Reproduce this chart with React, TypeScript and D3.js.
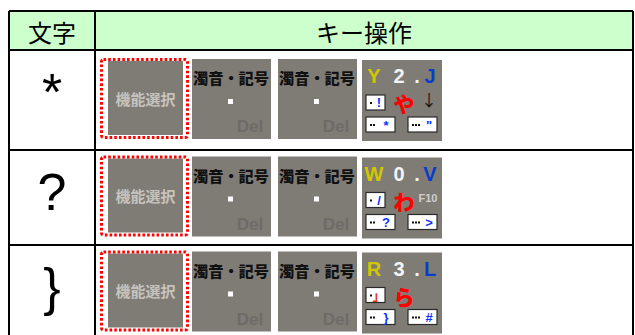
import React from "react";
import * as d3 from "d3";

// table content
const headers = ["文字", "キー操作"];
const chars = ["*", "?", "}"];
const romaji = [
  ["Y", "2", ".", "J"],
  ["W", "0", ".", "V"],
  ["R", "3", ".", "L"],
];
const kana = ["や", "わ", "ら"];
const extraKeys = ["↓", "F10", ""];
const oneTap = ["!", "/", "」"];
const twoTap = ["*", "?", "}"];
const threeTap = ['"', ">", "#"];
const menuLabel = "機能選択";
const markLabel = "濁音・記号";
const delLabel = "Del";

const W = 635;
const H = 335;
const left = 9;
const split = 95;
const right = 633;
const top = 11;
const headerH = 39;
const rowHeights = [100, 95, 95];

const KEY_BG = "#7f7c76";
const JP = "'Noto Sans CJK JP', sans-serif";
const LAT = "'Liberation Sans', Arial, sans-serif";

const MenuIcon = ({ x, y }: { x: number; y: number }) => (
  <g>
    <rect x={x + 8} y={y + 3} width={75} height={74} fill={KEY_BG} />
    <rect
      x={x + 1.5}
      y={y + 1.5}
      width={86}
      height={78}
      rx={2}
      fill="none"
      stroke="#ff0000"
      strokeWidth={3}
      strokeDasharray="2.6 2.1"
    />
    <text
      x={x + 45.5}
      y={y + 40}
      textAnchor="middle"
      dominantBaseline="central"
      fontFamily={JP}
      fontWeight={700}
      fontSize={15}
      fill="#c6c3bd"
    >
      {menuLabel}
    </text>
  </g>
);

const MarkIcon = ({ x, y }: { x: number; y: number }) => (
  <g>
    <rect x={x} y={y} width={79} height={80} fill={KEY_BG} />
    <text
      x={x + 1}
      y={y + 25}
      textLength={76}
      lengthAdjust="spacingAndGlyphs"
      fontFamily={JP}
      fontWeight={900}
      fontSize={15}
      fill="#111"
    >
      {markLabel}
    </text>
    <rect x={x + 36} y={y + 40} width={5} height={5} fill="#ffffff" />
    <text
      x={x + 58}
      y={y + 73}
      textAnchor="middle"
      fontFamily={LAT}
      fontWeight={700}
      fontSize={17}
      fill="#6e6b66"
    >
      {delLabel}
    </text>
  </g>
);

const romajiColors = ["#d2c600", "#f4f4f4", "#f4f4f4", "#0a3ccc"];
const romajiX = [12, 37, 55, 68];
const SYM_BLUE = "#1030ff";

const Dots = ({ x, y, n }: { x: number; y: number; n: number }) => (
  <g>
    {d3.range(n).map((k) => (
      <rect key={k} x={x + k * 3} y={y} width={2} height={2} fill="#111" />
    ))}
  </g>
);

const KeyIcon = ({ x, y, i }: { x: number; y: number; i: number }) => (
  <g>
    <rect x={x} y={y} width={80} height={81} fill={KEY_BG} />
    {romaji[i].map((s, k) => (
      <text
        key={k}
        x={x + romajiX[k]}
        y={y + 23}
        textAnchor="middle"
        fontFamily={LAT}
        fontWeight={700}
        fontSize={20}
        fill={romajiColors[k]}
      >
        {s}
      </text>
    ))}
    {/* one tap box */}
    <rect x={x + 4} y={y + 35} width={19} height={15} fill="#fff" stroke="#2a2a2a" strokeWidth={1.2} />
    <Dots x={x + 8} y={y + 42} n={1} />
    <text
      x={x + 17}
      y={y + 47}
      textAnchor="middle"
      fontFamily={oneTap[i] === "」" ? JP : LAT}
      fontWeight={700}
      fontSize={13}
      fill={oneTap[i] === "」" ? "#e8321e" : SYM_BLUE}
    >
      {oneTap[i]}
    </text>
    <text
      x={x + 42}
      y={y + 52}
      textAnchor="middle"
      fontFamily={JP}
      fontWeight={900}
      fontSize={21}
      fill="#ff0000"
    >
      {kana[i]}
    </text>
    {extraKeys[i] === "↓" ? (
      <text x={x + 67} y={y + 46} textAnchor="middle" fontFamily={JP} fontSize={16} fill="#111">
        {extraKeys[i]}
      </text>
    ) : (
      <text x={x + 66} y={y + 44} textAnchor="middle" fontFamily={LAT} fontWeight={700} fontSize={11} fill="#cfcfcf">
        {extraKeys[i]}
      </text>
    )}
    {/* two / three tap boxes */}
    <rect x={x + 4} y={y + 57} width={29} height={15} fill="#fff" stroke="#2a2a2a" strokeWidth={1.2} />
    <Dots x={x + 8} y={y + 64} n={2} />
    <text x={x + 24} y={y + 69.5} textAnchor="middle" fontFamily={LAT} fontWeight={700} fontSize={13} fill={SYM_BLUE}>
      {twoTap[i]}
    </text>
    <rect x={x + 46} y={y + 57} width={29} height={15} fill="#fff" stroke="#2a2a2a" strokeWidth={1.2} />
    <Dots x={x + 50} y={y + 64} n={3} />
    <text x={x + 67} y={y + 69.5} textAnchor="middle" fontFamily={LAT} fontWeight={700} fontSize={13} fill={SYM_BLUE}>
      {threeTap[i]}
    </text>
  </g>
);

export default function App() {
  const rowTops = [top + headerH, ...Array.from(d3.cumsum(rowHeights)).map((c) => top + headerH + c)];
  const charX = (left + split) / 2;
  const opX = (split + right) / 2;

  return (
    <svg
      width={W}
      height={H}
      style={{ position: "absolute", left: 0, top: 0, background: "#fff" }}
    >
      <rect x={left} y={top} width={right - left} height={headerH} fill="#ccffcc" />
      <text x={charX} y={top + headerH / 2 + 1} textAnchor="middle" dominantBaseline="central" fontFamily={JP} fontSize={24} fill="#000">
        {headers[0]}
      </text>
      <text x={opX} y={top + headerH / 2 + 1} textAnchor="middle" dominantBaseline="central" fontFamily={JP} fontSize={24} fill="#000">
        {headers[1]}
      </text>

      {chars.map((c, i) => {
        const y0 = rowTops[i];
        const cy = y0 + rowHeights[i] / 2;
        return (
          <g key={i}>
            <text x={charX} y={y0 + 60} textAnchor="middle" fontFamily={LAT} fontSize={52} fill="#000">
              {c}
            </text>
            <MenuIcon x={100} y={cy - 42} />
            <MarkIcon x={192} y={cy - 41} />
            <MarkIcon x={278} y={cy - 41} />
            <KeyIcon x={362} y={cy - 40} i={i} />
          </g>
        );
      })}

      {/* grid */}
      <g stroke="#000" strokeWidth={2} fill="none">
        <line x1={left} y1={top} x2={right} y2={top} />
        <line x1={left} y1={top} x2={left} y2={H + 5} />
        <line x1={right} y1={top} x2={right} y2={H + 5} />
        <line x1={split} y1={top} x2={split} y2={H + 5} />
        {rowTops.map((y, k) => (
          <line key={k} x1={left} y1={y} x2={right} y2={y} />
        ))}
      </g>
    </svg>
  );
}
